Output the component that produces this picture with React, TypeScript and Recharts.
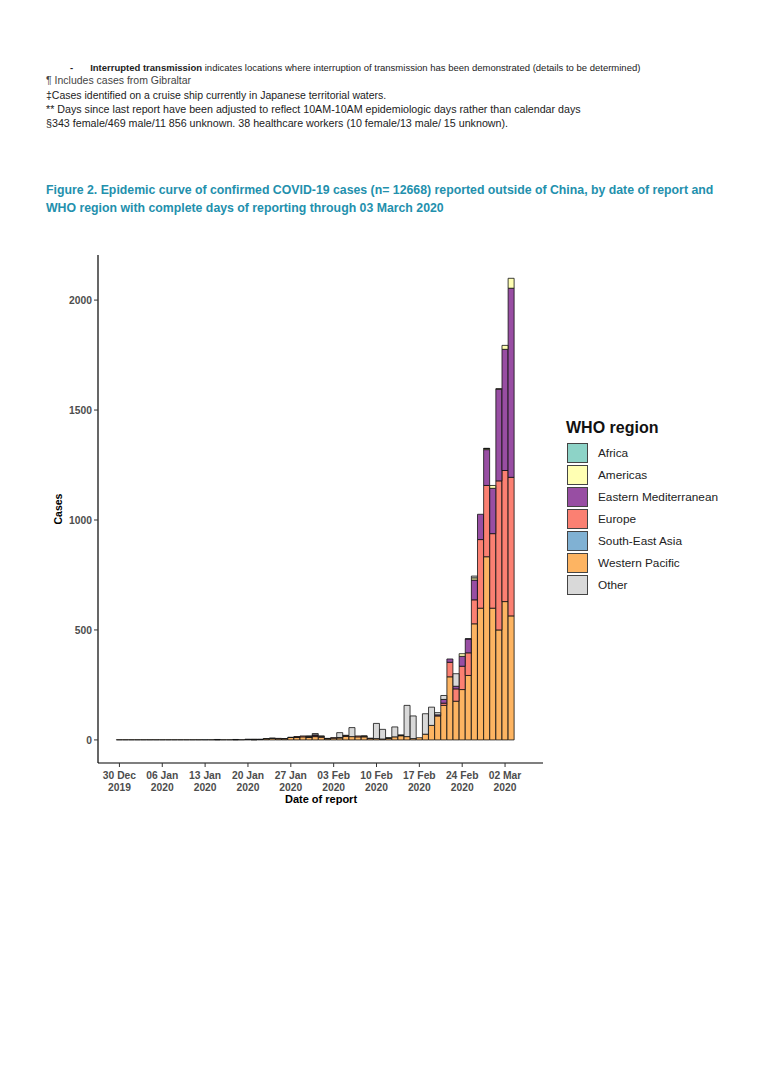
import React from "react";
import { BarChart, Bar, XAxis, YAxis } from "recharts";

// daily counts, 30 Dec 2019 (index 0) .. 03 Mar 2020 (index 64), one row per week
const westernPacific = [
  1, 1, 1, 1, 1, 1, 1,
  1, 1, 1, 1, 1, 1, 1,
  0, 1, 1, 1, 1, 1, 1,
  2, 1, 2, 5, 7, 5, 5,
  11, 12, 14, 12, 15, 12, 5,
  8, 9, 16, 15, 14, 14, 6,
  6, 4, 7, 14, 19, 15, 6,
  10, 26, 66, 109, 157, 287, 176,
  229, 293, 528, 599, 833, 599, 500,
  629, 564,
];
const southEastAsia = [
  0, 0, 0, 0, 0, 0, 0,
  0, 0, 0, 0, 0, 0, 0,
  1, 0, 1, 0, 0, 1, 0,
  1, 1, 1, 0, 1, 0, 1,
  0, 1, 0, 1, 0, 0, 1,
  0, 0, 0, 0, 0, 0, 0,
  0, 0, 0, 0, 0, 0, 0,
  0, 0, 0, 0, 0, 0, 0,
  0, 0, 0, 0, 0, 0, 0,
  0, 0,
];
const europe = [
  0, 0, 0, 0, 0, 0, 0,
  0, 0, 0, 0, 0, 0, 0,
  0, 0, 0, 0, 0, 0, 0,
  0, 0, 0, 0, 0, 2, 0,
  0, 2, 4, 3, 4, 4, 0,
  2, 2, 3, 0, 4, 3, 2,
  0, 0, 1, 0, 0, 0, 0,
  0, 0, 0, 0, 10, 66, 56,
  106, 103, 109, 312, 324, 339, 678,
  596, 630,
];
const easternMed = [
  0, 0, 0, 0, 0, 0, 0,
  0, 0, 0, 0, 0, 0, 0,
  0, 0, 0, 0, 0, 0, 0,
  0, 0, 0, 0, 0, 0, 0,
  0, 0, 0, 0, 4, 0, 0,
  0, 0, 0, 0, 0, 0, 0,
  0, 0, 0, 0, 0, 0, 0,
  0, 0, 0, 5, 17, 15, 12,
  45, 63, 90, 115, 163, 206, 417,
  551, 860,
];
const americas = [
  0, 0, 0, 0, 0, 0, 0,
  0, 0, 0, 0, 0, 0, 0,
  0, 0, 0, 0, 0, 0, 0,
  0, 1, 0, 1, 0, 0, 0,
  1, 0, 0, 0, 0, 2, 1,
  0, 0, 0, 0, 0, 1, 0,
  0, 0, 2, 0, 2, 0, 0,
  0, 0, 0, 0, 0, 0, 0,
  12, 0, 10, 0, 5, 13, 2,
  18, 45,
];
const africa = [
  0, 0, 0, 0, 0, 0, 0,
  0, 0, 0, 0, 0, 0, 0,
  0, 0, 0, 0, 0, 0, 0,
  0, 0, 0, 0, 0, 0, 0,
  0, 0, 0, 0, 0, 0, 0,
  0, 0, 0, 0, 0, 0, 0,
  0, 0, 0, 0, 1, 0, 0,
  0, 0, 0, 0, 0, 0, 0,
  0, 1, 0, 0, 1, 0, 0,
  0, 0,
];
const other = [
  0, 0, 0, 0, 0, 0, 0,
  0, 0, 0, 0, 0, 0, 0,
  0, 0, 0, 0, 0, 0, 0,
  0, 0, 0, 0, 0, 0, 0,
  0, 0, 0, 2, 6, 0, 0,
  0, 22, 2, 41, 0, 0, 0,
  69, 44, 0, 45, 0, 142, 103,
  0, 93, 83, 10, 18, 0, 57,
  0, 0, 8, 0, 0, 0, 0,
  0, 0,
];

const TICK_DAYS = [0, 7, 14, 21, 28, 35, 42, 49, 56, 63];
const TICK_LABELS = [
  "30 Dec|2019", "06 Jan|2020", "13 Jan|2020", "20 Jan|2020", "27 Jan|2020",
  "03 Feb|2020", "10 Feb|2020", "17 Feb|2020", "24 Feb|2020", "02 Mar|2020",
];
const Y_TICKS = [0, 500, 1000, 1500, 2000];

const LEGEND = [
  { name: "Africa", color: "#8dd3c7" },
  { name: "Americas", color: "#ffffb3" },
  { name: "Eastern Mediterranean", color: "#984ea3" },
  { name: "Europe", color: "#fb8072" },
  { name: "South-East Asia", color: "#80b1d3" },
  { name: "Western Pacific", color: "#fdb462" },
  { name: "Other", color: "#d9d9d9" },
];

// stacked bottom -> top as in the figure
const SERIES = [
  { key: "wp", values: westernPacific, color: "#fdb462" },
  { key: "sea", values: southEastAsia, color: "#80b1d3" },
  { key: "eur", values: europe, color: "#fb8072" },
  { key: "emr", values: easternMed, color: "#984ea3" },
  { key: "amr", values: americas, color: "#ffffb3" },
  { key: "afr", values: africa, color: "#8dd3c7" },
  { key: "oth", values: other, color: "#d9d9d9" },
];

const data = westernPacific.map((_, i) => {
  const row: Record<string, number> = { day: i };
  SERIES.forEach((s) => (row[s.key] = s.values[i]));
  return row;
});

const FONT = "'Liberation Sans', Arial, sans-serif";

function DateTick(props: any) {
  const { x, y, payload } = props;
  const idx = TICK_DAYS.indexOf(payload.value);
  const [l1, l2] = (TICK_LABELS[idx] ?? "|").split("|");
  return (
    <text x={x} y={y} textAnchor="middle" fontSize={10.3} fontWeight="bold" fill="#4d4d4d" fontFamily={FONT}>
      <tspan x={x} dy={10}>{l1}</tspan>
      <tspan x={x} dy={11.5}>{l2}</tspan>
    </text>
  );
}

const note = (top: number, size: number, color = "#222"): React.CSSProperties => ({
  position: "absolute",
  left: 46,
  top,
  fontSize: size,
  lineHeight: "12px",
  color,
  fontFamily: FONT,
  whiteSpace: "nowrap",
});

export default function App() {
  return (
    <div style={{ position: "absolute", left: 0, top: 0, width: 765, height: 1080, background: "#fff", fontFamily: FONT }}>
      <div style={{ ...note(62, 9.5), left: 70 }}>
        <b>-</b>
        <span style={{ marginLeft: 17 }}>
          <b>Interrupted transmission</b> indicates locations where interruption of transmission has been demonstrated (details to be determined)
        </span>
      </div>
      <div style={note(74, 10.5, "#444")}>¶ Includes cases from Gibraltar</div>
      <div style={note(89, 10.5)}>‡Cases identified on a cruise ship currently in Japanese territorial waters.</div>
      <div style={note(103, 10.7)}>** Days since last report have been adjusted to reflect 10AM-10AM epidemiologic days rather than calendar days</div>
      <div style={note(117, 10.7)}>§343 female/469 male/11 856 unknown. 38 healthcare workers (10 female/13 male/ 15 unknown).</div>

      <div style={{ position: "absolute", left: 46, top: 181, fontSize: 12.3, lineHeight: "18px", fontWeight: "bold", color: "#2390ad", whiteSpace: "nowrap" }}>
        Figure 2. Epidemic curve of confirmed COVID-19 cases (n= 12668) reported outside of China, by date of report and
        <br />
        WHO region with complete days of reporting through 03 March 2020
      </div>

      <div style={{ position: "absolute", left: 0, top: 240 }}>
        <BarChart width={560} height={570} data={data} margin={{ top: 15, right: 17, bottom: 7, left: 48 }} barSize={6}>
          <XAxis
            type="number"
            dataKey="day"
            domain={[-3.5, 69.2]}
            allowDataOverflow
            ticks={TICK_DAYS}
            interval={0}
            tick={<DateTick />}
            tickSize={4}
            tickMargin={2}
            height={40}
            axisLine={{ stroke: "#000", strokeWidth: 1.2 }}
            tickLine={{ stroke: "#333" }}
          />
          <YAxis
            type="number"
            domain={[-105, 2205]}
            allowDataOverflow
            ticks={Y_TICKS}
            interval={0}
            width={50}
            tickSize={4}
            tickMargin={2}
            axisLine={{ stroke: "#000", strokeWidth: 1.2 }}
            tickLine={{ stroke: "#333" }}
            tick={{ fontSize: 10.3, fontWeight: "bold", fill: "#4d4d4d", fontFamily: FONT }}
          />
          {SERIES.map((s) => (
            <Bar
              key={s.key}
              dataKey={s.key}
              stackId="a"
              fill={s.color}
              stroke="#111"
              strokeWidth={0.8}
              isAnimationActive={false}
            />
          ))}
        </BarChart>
      </div>

      <div style={{ position: "absolute", left: 38, top: 503, width: 40, textAlign: "center", transform: "rotate(-90deg)", fontSize: 10.5, fontWeight: "bold", color: "#000" }}>
        Cases
      </div>
      <div style={{ position: "absolute", left: 256, top: 793, width: 130, textAlign: "center", fontSize: 11, fontWeight: "bold", color: "#000" }}>
        Date of report
      </div>

      <div style={{ position: "absolute", left: 566, top: 418, fontSize: 16, lineHeight: "20px", fontWeight: "bold", color: "#111" }}>
        WHO region
      </div>
      {LEGEND.map((item, i) => (
        <React.Fragment key={item.name}>
          <div
            style={{
              position: "absolute",
              left: 567,
              top: 443 + i * 22,
              width: 21,
              height: 20,
              boxSizing: "border-box",
              background: item.color,
              border: "1px solid #444",
            }}
          />
          <div style={{ position: "absolute", left: 598, top: 443 + i * 22, lineHeight: "20px", fontSize: 11.8, color: "#222" }}>
            {item.name}
          </div>
        </React.Fragment>
      ))}
    </div>
  );
}
